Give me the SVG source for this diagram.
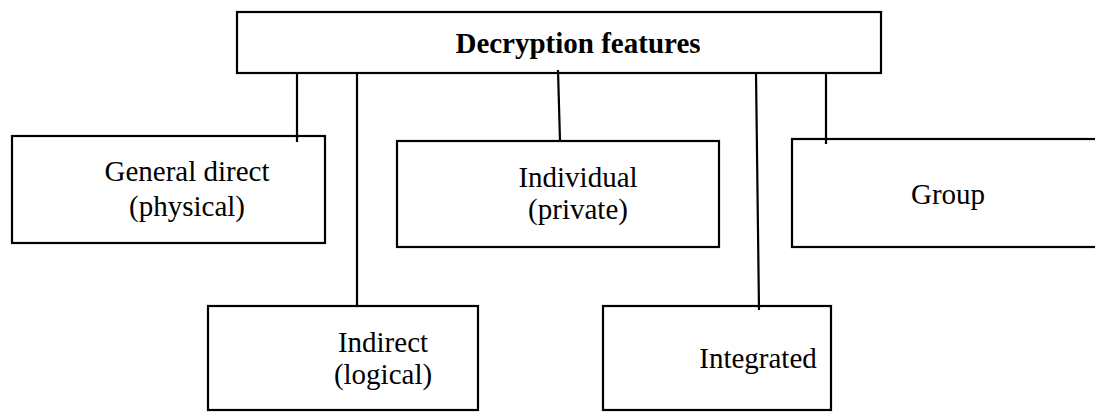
<svg xmlns="http://www.w3.org/2000/svg" width="1095" height="412" viewBox="0 0 1095 412">
<style>
.box{fill:#fff;stroke:#000;stroke-width:2.2}
.t{font-family:"Liberation Serif","Times New Roman",serif;font-size:29px;fill:#000;text-anchor:middle}
.b{font-weight:bold}
.c{stroke:#000;stroke-width:2.2;fill:none}
</style>
<rect width="1095" height="412" fill="#fff"/>
<g id="n-top"><rect class="box" x="237" y="12" width="644" height="61"/><text class="t b" x="578" y="53">Decryption features</text></g>
<g id="n-general"><rect class="box" x="12" y="136" width="313" height="107"/><text class="t" x="187" y="181">General direct</text><text class="t" x="187" y="216">(physical)</text></g>
<g id="n-individual"><rect class="box" x="397" y="141" width="322" height="106"/><text class="t" x="578" y="187">Individual</text><text class="t" x="578" y="219">(private)</text></g>
<g id="n-group"><rect class="box" x="792" y="139" width="310" height="108"/><text class="t" x="948" y="204">Group</text></g>
<g id="n-indirect"><rect class="box" x="208" y="306" width="270" height="104"/><text class="t" x="383" y="352">Indirect</text><text class="t" x="383" y="384">(logical)</text></g>
<g id="n-integrated"><rect class="box" x="603" y="306" width="228" height="104"/><text class="t" x="758" y="368">Integrated</text></g>
<g id="connectors">
<line class="c" x1="297" y1="73" x2="297" y2="142"/>
<line class="c" x1="357" y1="73" x2="357" y2="306"/>
<line class="c" x1="558" y1="70" x2="560" y2="141"/>
<line class="c" x1="756" y1="73" x2="759" y2="310"/>
<line class="c" x1="826" y1="73" x2="826" y2="144"/>
</g>
</svg>
